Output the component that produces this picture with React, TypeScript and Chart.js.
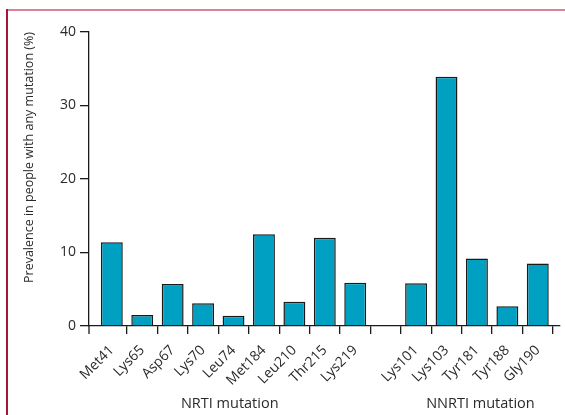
import React, { useEffect, useRef } from "react";
import { Chart, registerables } from "chart.js";

Chart.register(...registerables);

const categories = ["Met41", "Lys65", "Asp67", "Lys70", "Leu74", "Met184", "Leu210", "Thr215", "Lys219", "", "Lys101", "Lys103", "Tyr181", "Tyr188", "Gly190"];
const prevalence = [11.4, 1.5, 5.7, 3.1, 1.4, 12.5, 3.3, 12.0, 5.9, null, 5.8, 33.9, 9.2, 2.7, 8.5];
const yTickValues = [0, 10, 20, 30, 40];
const groupLabels = ["NRTI mutation", "NNRTI mutation"];
const groupFirst = [0, 10];
const groupLast = [8, 14];
const yTitle = "Prevalence in people with any mutation (%)";

const FONT = "'Open Sans'";
const TEXT = "#2a2a2a";
const AXIS = "#1a1a1a";

const extrasPlugin = {
  id: "extras",
  beforeDraw(chart: any) {
    const ctx = chart.ctx;
    ctx.save();
    ctx.lineWidth = 2;
    ctx.strokeStyle = "#dc8197";
    ctx.beginPath();
    ctx.moveTo(7, 10);
    ctx.lineTo(chart.width, 10);
    ctx.stroke();
    ctx.strokeStyle = "#a3173d";
    ctx.beginPath();
    ctx.moveTo(7, 9);
    ctx.lineTo(7, chart.height);
    ctx.stroke();
    ctx.restore();
  },
  afterDraw(chart: any) {
    const ctx = chart.ctx;
    const area = chart.chartArea;
    const x = chart.scales.x;
    ctx.save();
    ctx.strokeStyle = AXIS;
    ctx.lineWidth = 1.3;
    ctx.beginPath();
    ctx.moveTo(area.left, area.bottom);
    ctx.lineTo(area.left, area.bottom + 8);
    ctx.stroke();
    ctx.fillStyle = TEXT;
    ctx.font = `14.5px ${FONT}`;
    ctx.textAlign = "center";
    ctx.textBaseline = "middle";
    groupLabels.forEach((label, i) => {
      const start = i === 0 ? area.left : x.getPixelForValue(groupFirst[i] - 0.5);
      const end = i === groupLabels.length - 1 ? area.right : x.getPixelForValue(groupLast[i] + 0.5);
      ctx.fillText(label, (start + end) / 2, 404);
    });
    ctx.restore();
  },
};

export default function App() {
  const ref = useRef<HTMLCanvasElement>(null);
  useEffect(() => {
    document.body.style.margin = "0";
    const chart = new Chart(ref.current!, {
      type: "bar",
      data: {
        labels: categories,
        datasets: [
          {
            data: prevalence,
            backgroundColor: "#00a0c2",
            borderColor: "#1a1a1a",
            borderWidth: 1.5,
            categoryPercentage: 1,
            barPercentage: 0.72,
          },
        ],
      },
      plugins: [extrasPlugin],
      options: {
        animation: false,
        responsive: false,
        layout: { padding: { left: 0, right: 5, top: 32, bottom: 0 } },
        plugins: { legend: { display: false }, tooltip: { enabled: false } },
        scales: {
          x: {
            afterBuildTicks: (scale: any) => {
              scale._startValue -= 0.25;
              scale._valueRange += 0.48;
            },
            afterFit: (scale: any) => {
              scale.height = 89;
            },
            border: { color: AXIS, width: 1.3 },
            grid: {
              drawOnChartArea: false,
              drawTicks: true,
              tickLength: 8,
              lineWidth: 1.3,
              color: (c: any) => (c.index === 0 ? "rgba(0,0,0,0)" : AXIS),
            },
            ticks: {
              maxRotation: 45,
              minRotation: 45,
              autoSkip: false,
              padding: 8,
              color: TEXT,
              font: { family: FONT, size: 14 },
            },
          },
          y: {
            min: 0,
            max: 40,
            afterBuildTicks: (scale: any) => {
              scale.ticks = yTickValues.map((v) => ({ value: v }));
            },
            afterFit: (scale: any) => {
              scale.width = 89;
            },
            border: { color: AXIS, width: 1.3 },
            grid: {
              drawOnChartArea: false,
              drawTicks: true,
              tickLength: 9,
              lineWidth: 1.3,
              color: AXIS,
            },
            ticks: {
              padding: 4,
              color: TEXT,
              font: { family: FONT, size: 14 },
            },
            title: {
              display: true,
              text: yTitle,
              align: "end",
              color: TEXT,
              font: { family: FONT, size: 12.5 },
              padding: { top: 22, bottom: 0 },
            },
          },
        },
      },
    });
    return () => chart.destroy();
  }, []);
  return <canvas ref={ref} width={565} height={415} style={{ display: "block" }} />;
}
